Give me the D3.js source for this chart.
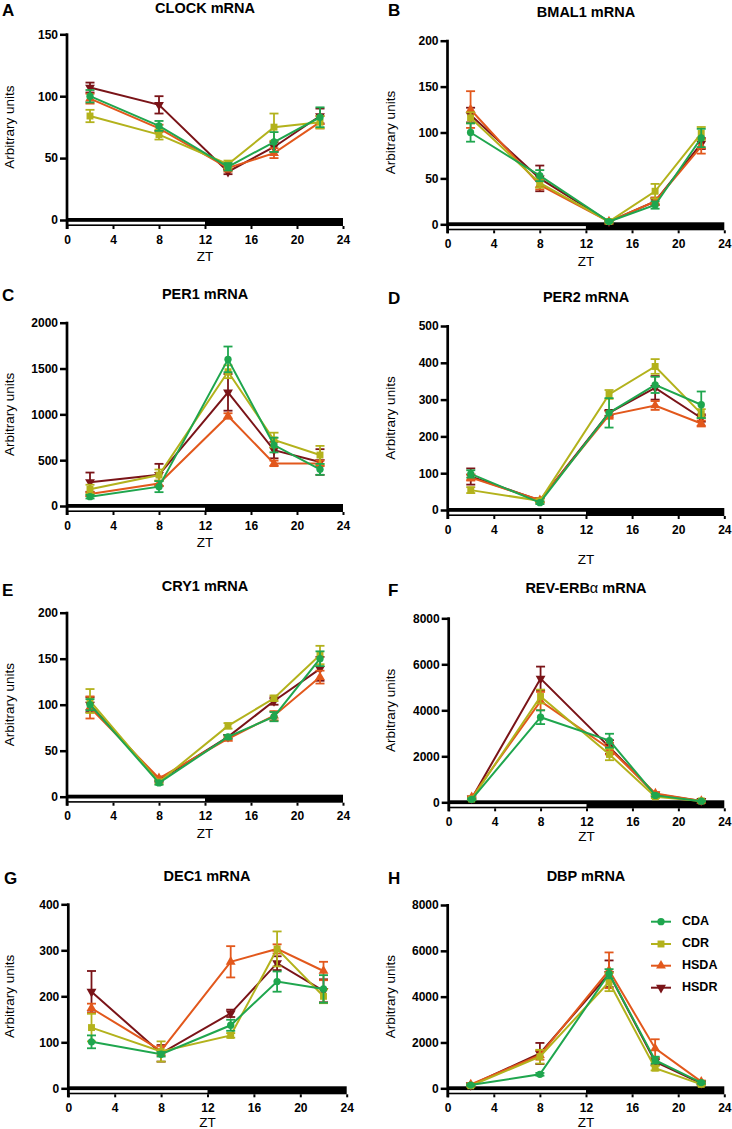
<!DOCTYPE html>
<html>
<head>
<meta charset="utf-8">
<script src="https://d3js.org/d3.v7.min.js"></script>
<style>
  body { margin: 0; background: #fff; }
  svg { display: block; font-family: "Liberation Sans", Arial, sans-serif; }
</style>
</head>
<body>
<svg id="chart" width="732" height="1129"></svg>
<script>
// sampling times (ZT) and the four diet groups
var zt = [2, 8, 14, 18, 22];
var groups = ['CDA', 'CDR', 'HSDA', 'HSDR'];
var xTicks = [0, 4, 8, 12, 16, 20, 24];

// means per group (rows: CDA, CDR, HSDA, HSDR) and their error bars
var clockMean = [[100, 76, 43, 63, 83], [84, 69, 45, 75, 79], [98, 74, 42, 54, 79], [107, 93, 39, 59, 84]];
var clockErr  = [[5, 4, 3, 8, 8], [5, 4, 3, 11, 5], [4, 3, 3, 4, 5], [4, 7, 2, 4, 6]];

var bmalMean = [[100, 53, 3, 21, 94], [116, 45, 3, 36, 99], [125, 43, 3, 25, 85], [119, 50, 3, 25, 88]];
var bmalErr  = [[10, 6, 1, 4, 10], [6, 5, 1, 8, 7], [20, 5, 1, 4, 8], [8, 14, 1, 4, 6]];

var per1Mean = [[102, 211, 1600, 665, 400], [182, 338, 1465, 720, 556], [130, 245, 982, 465, 465], [260, 340, 1240, 610, 480]];
var per1Err  = [[20, 60, 140, 80, 60], [50, 60, 70, 80, 100], [20, 30, 30, 30, 30], [105, 120, 200, 90, 140]];

var per2Mean = [[98, 20, 264, 340, 286], [54, 25, 314, 390, 262], [88, 27, 258, 284, 235], [91, 26, 264, 332, 250]];
var per2Err  = [[10, 4, 40, 22, 36], [8, 4, 12, 20, 12], [8, 5, 10, 12, 8], [22, 6, 8, 32, 10]];

var cry1Mean = [[100, 15, 65, 87, 150], [104, 16, 77, 107, 154], [97, 20, 63, 88, 130], [100, 18, 65, 104, 139]];
var cry1Err  = [[6, 2, 2, 5, 8], [13, 2, 3, 3, 10], [12, 2, 2, 5, 7], [8, 2, 2, 4, 13]];

var revMean = [[130, 3700, 2680, 300, 50], [140, 4600, 2080, 240, 60], [220, 4400, 2330, 380, 60], [170, 5380, 2400, 350, 60]];
var revErr  = [[40, 300, 300, 60, 20], [40, 300, 250, 60, 20], [40, 400, 250, 60, 20], [40, 520, 300, 60, 20]];

var dec1Mean = [[101, 74, 137, 232, 216], [132, 80, 115, 303, 200], [174, 82, 275, 303, 255], [210, 76, 163, 272, 212]];
var dec1Err  = [[14, 5, 12, 22, 30], [30, 22, 5, 38, 15], [10, 10, 34, 10, 20], [45, 18, 8, 15, 25]];

var dbpMean = [[140, 610, 5000, 1230, 250], [110, 1380, 4640, 880, 170], [170, 1450, 5150, 1740, 290], [140, 1520, 5000, 1160, 220]];
var dbpErr  = [[40, 60, 200, 150, 50], [40, 300, 400, 100, 40], [40, 200, 780, 400, 50], [40, 460, 580, 150, 50]];

// panel descriptions: title, y-axis max and tick step
var panels = [
  {letter: 'A', gene: 'CLOCK', mean: clockMean, err: clockErr, max: 150, step: 50},
  {letter: 'B', gene: 'BMAL1', mean: bmalMean, err: bmalErr, max: 200, step: 50},
  {letter: 'C', gene: 'PER1', mean: per1Mean, err: per1Err, max: 2000, step: 500},
  {letter: 'D', gene: 'PER2', mean: per2Mean, err: per2Err, max: 500, step: 100},
  {letter: 'E', gene: 'CRY1', mean: cry1Mean, err: cry1Err, max: 200, step: 50},
  {letter: 'F', gene: 'REV-ERB', greek: '\u03b1', mean: revMean, err: revErr, max: 8000, step: 2000},
  {letter: 'G', gene: 'DEC1', mean: dec1Mean, err: dec1Err, max: 400, step: 100},
  {letter: 'H', gene: 'DBP', mean: dbpMean, err: dbpErr, max: 8000, step: 2000}
];

// where each panel sits on the page
var layout = [
  {ax: 67,    x24: 343,   top: 34.3,  zero: 220,    zt: 257,  tx: 205, ty: 9,   lx: 2,   ly: 16,  yl: 10},
  {ax: 447.5, x24: 724.3, top: 40.7,  zero: 224.3,  zt: 262,  tx: 586, ty: 13,  lx: 388, ly: 16,  yl: 391},
  {ax: 67,    x24: 343,   top: 322.7, zero: 506,    zt: 543,  tx: 205, ty: 295, lx: 2,   ly: 301, yl: 10},
  {ax: 447.7, x24: 724.3, top: 326,   zero: 510,    zt: 560,  tx: 586, ty: 298, lx: 388, ly: 304, yl: 391},
  {ax: 67,    x24: 343,   top: 612.7, zero: 796.7,  zt: 834,  tx: 205, ty: 587, lx: 2,   ly: 596, yl: 10},
  {ax: 448.7, x24: 724.3, top: 618.3, zero: 802.3,  zt: 837,  tx: 586, ty: 589, lx: 388, ly: 596, yl: 391},
  {ax: 68.3,  x24: 346.7, top: 904.3, zero: 1088.3, zt: 1123, tx: 207, ty: 877, lx: 4,   ly: 884, yl: 10},
  {ax: 447.7, x24: 724.3, top: 905,   zero: 1088.3, zt: 1123, tx: 586, ty: 877, lx: 388, ly: 884, yl: 391}
];

var FONT = '"Liberation Sans", Arial, sans-serif';
var colors = ['#1fa64e', '#b3b21c', '#e2581c', '#7a1418'];
var symbols = [
  d3.symbol().type(d3.symbolCircle).size(42),
  d3.symbol().type(d3.symbolSquare).size(48),
  d3.symbol().type(d3.symbolTriangle).size(42),
  d3.symbol().type(d3.symbolTriangle).size(42)
];
var symbolRotate = [0, 0, 0, 180];

var svg = d3.select('#chart');

function styleTicks(sel) {
    sel.attr('font-family', FONT).attr('font-size', 12);
    sel.selectAll('.tick text')
        .attr('font-weight', 'bold')
        .attr('fill', '#000');
}

panels.forEach(function(p, i) {
    var L = layout[i];
    var g = svg.append('g');

    var x = d3.scaleLinear().domain([0, 24]).range([L.ax, L.x24]);
    var y = d3.scaleLinear().domain([0, p.max]).range([L.zero, L.top]);

    // panel letter and title
    g.append('text')
        .attr('x', L.lx).attr('y', L.ly)
        .attr('font-size', 17).attr('font-weight', 'bold')
        .text(p.letter);

    var title = g.append('text')
        .attr('x', L.tx).attr('y', L.ty)
        .attr('text-anchor', 'middle')
        .attr('dominant-baseline', 'middle')
        .attr('font-size', 14.5).attr('font-weight', 'bold');
    title.append('tspan').text(p.gene);
    if (p.greek) {
        title.append('tspan').attr('font-weight', 'normal').text(p.greek);
    }
    title.append('tspan').text(' mRNA');

    // y axis
    var yAxis = d3.axisLeft(y)
        .tickValues(d3.range(0, p.max + 1, p.step))
        .tickFormat(d3.format('d'))
        .tickSize(7).tickPadding(2).tickSizeOuter(0);
    var yg = g.append('g')
        .attr('transform', 'translate(' + L.ax + ',0)')
        .call(yAxis);
    yg.select('.domain').remove();
    yg.selectAll('.tick line').attr('stroke', '#000').attr('stroke-width', 2.5);
    styleTicks(yg);

    g.append('line')
        .attr('x1', L.ax).attr('x2', L.ax)
        .attr('y1', L.top - 1).attr('y2', L.zero + 9)
        .attr('stroke', '#000').attr('stroke-width', 2.7);

    // light/dark bar along the zero line
    g.append('rect')
        .attr('x', x(0)).attr('y', L.zero - 2)
        .attr('width', x(24) - x(0)).attr('height', 8)
        .attr('fill', '#000');
    g.append('rect')
        .attr('x', x(0) + 1.5).attr('y', L.zero + 1.8)
        .attr('width', x(12) - x(0) - 1.5).attr('height', 2.6)
        .attr('fill', '#fff');

    // x axis
    var xAxis = d3.axisBottom(x).tickValues(xTicks).tickSize(3).tickSizeOuter(0);
    var xg = g.append('g')
        .attr('transform', 'translate(0,' + (L.zero + 6) + ')')
        .call(xAxis);
    xg.select('.domain').remove();
    xg.selectAll('.tick line').attr('stroke', '#000').attr('stroke-width', 2);
    styleTicks(xg);
    xg.selectAll('.tick text').attr('y', 13.5).attr('dy', '0.35em');

    // axis labels
    g.append('text')
        .attr('x', (L.ax + L.x24) / 2).attr('y', L.zt)
        .attr('text-anchor', 'middle').attr('dominant-baseline', 'middle')
        .attr('font-size', 13.5)
        .text('ZT');

    g.append('text')
        .attr('transform', 'translate(' + L.yl + ',' + ((L.top + L.zero) / 2) + ') rotate(-90)')
        .attr('text-anchor', 'middle').attr('dominant-baseline', 'middle')
        .attr('font-size', 13.5)
        .text('Arbitrary units');

    // series, drawn so that CDA ends on top
    var line = d3.line()
        .x(function(d) { return x(d.t); })
        .y(function(d) { return y(d.v); });

    for (var s = groups.length - 1; s >= 0; s--) {
        var pts = zt.map(function(t, k) {
            return {t: t, v: p.mean[s][k], e: p.err[s][k]};
        });
        var sg = g.append('g').attr('class', 'series ' + groups[s]);

        sg.append('path')
            .datum(pts)
            .attr('d', line)
            .attr('fill', 'none')
            .attr('stroke', colors[s])
            .attr('stroke-width', 2);

        var eb = sg.selectAll('.err')
            .data(pts)
            .enter()
            .append('g')
            .attr('class', 'err');
        eb.append('line')
            .attr('x1', function(d) { return x(d.t); })
            .attr('x2', function(d) { return x(d.t); })
            .attr('y1', function(d) { return y(d.v - d.e); })
            .attr('y2', function(d) { return y(d.v + d.e); })
            .attr('stroke', colors[s]).attr('stroke-width', 1.8);
        [-1, 1].forEach(function(sign) {
            eb.append('line')
                .attr('x1', function(d) { return x(d.t) - 4.5; })
                .attr('x2', function(d) { return x(d.t) + 4.5; })
                .attr('y1', function(d) { return y(d.v + sign * d.e); })
                .attr('y2', function(d) { return y(d.v + sign * d.e); })
                .attr('stroke', colors[s]).attr('stroke-width', 1.8);
        });

        sg.selectAll('.mark')
            .data(pts)
            .enter()
            .append('path')
            .attr('class', 'mark')
            .attr('d', symbols[s])
            .attr('transform', function(d) {
                return 'translate(' + x(d.t) + ',' + y(d.v) + ') rotate(' + symbolRotate[s] + ')';
            })
            .attr('fill', colors[s]);
    }
});

// legend inside panel H
var legendY = [921.7, 944, 965.7, 987.7];
var legend = svg.append('g');
groups.forEach(function(name, s) {
    var row = legend.append('g').attr('transform', 'translate(0,' + legendY[s] + ')');
    row.append('line')
        .attr('x1', 651).attr('x2', 671)
        .attr('stroke', colors[s]).attr('stroke-width', 2);
    row.append('path')
        .attr('d', symbols[s])
        .attr('transform', 'translate(661,0) rotate(' + symbolRotate[s] + ')')
        .attr('fill', colors[s]);
    row.append('text')
        .attr('x', 682).attr('dominant-baseline', 'middle')
        .attr('font-size', 12.5).attr('font-weight', 'bold')
        .text(name);
});
</script>
</body>
</html>
